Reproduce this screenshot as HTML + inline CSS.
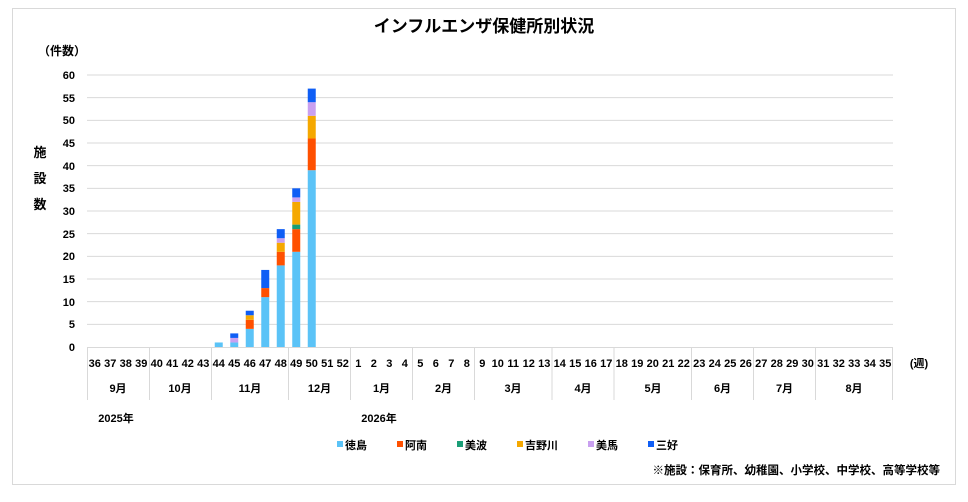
<!DOCTYPE html>
<html><head><meta charset="utf-8"><style>
body{margin:0;background:#fff;}
svg{display:block;font-family:"Liberation Sans","Noto Sans CJK JP",sans-serif;}
</style></head><body>
<svg width="968" height="502" viewBox="0 0 968 502" xmlns="http://www.w3.org/2000/svg">
<rect x="12.5" y="8.5" width="943" height="476" fill="#fff" stroke="#d9d9d9"/>
<text x="484" y="32" text-anchor="middle" font-size="17" font-weight="bold" fill="#000">インフルエンザ保健所別状況</text>
<text x="62" y="55" text-anchor="middle" font-size="12" font-weight="bold">（件数）</text>
<g font-size="13" font-weight="bold" text-anchor="middle"><text x="40" y="157">施</text><text x="40" y="183">設</text><text x="40" y="209">数</text></g>
<g stroke="#d9d9d9" stroke-width="1">
<line x1="87" x2="893" y1="324.33" y2="324.33"/><line x1="87" x2="893" y1="301.67" y2="301.67"/><line x1="87" x2="893" y1="279" y2="279"/><line x1="87" x2="893" y1="256.33" y2="256.33"/><line x1="87" x2="893" y1="233.67" y2="233.67"/><line x1="87" x2="893" y1="211" y2="211"/><line x1="87" x2="893" y1="188.33" y2="188.33"/><line x1="87" x2="893" y1="165.67" y2="165.67"/><line x1="87" x2="893" y1="143" y2="143"/><line x1="87" x2="893" y1="120.33" y2="120.33"/><line x1="87" x2="893" y1="97.67" y2="97.67"/><line x1="87" x2="893" y1="75" y2="75"/>
<line x1="87" x2="893" y1="347.5" y2="347.5"/>
<line x1="87.5" x2="87.5" y1="347" y2="400"/><line x1="149.5" x2="149.5" y1="347" y2="400"/><line x1="211.5" x2="211.5" y1="347" y2="400"/><line x1="288.5" x2="288.5" y1="347" y2="400"/><line x1="350.5" x2="350.5" y1="347" y2="400"/><line x1="412.5" x2="412.5" y1="347" y2="400"/><line x1="474.5" x2="474.5" y1="347" y2="400"/><line x1="552" x2="552" y1="347" y2="400"/><line x1="614" x2="614" y1="347" y2="400"/><line x1="691.5" x2="691.5" y1="347" y2="400"/><line x1="753.5" x2="753.5" y1="347" y2="400"/><line x1="815.5" x2="815.5" y1="347" y2="400"/><line x1="892.5" x2="892.5" y1="347" y2="400"/>
</g>
<g font-size="11" font-weight="bold" text-anchor="end">
<text x="75" y="351">0</text><text x="75" y="328">5</text><text x="75" y="306">10</text><text x="75" y="283">15</text><text x="75" y="260">20</text><text x="75" y="238">25</text><text x="75" y="215">30</text><text x="75" y="192">35</text><text x="75" y="170">40</text><text x="75" y="147">45</text><text x="75" y="124">50</text><text x="75" y="102">55</text><text x="75" y="79">60</text>
</g>
<g font-size="11" font-weight="bold" text-anchor="middle">
<text x="94.75" y="367">36</text><text x="110.25" y="367">37</text><text x="125.75" y="367">38</text><text x="141.25" y="367">39</text><text x="156.75" y="367">40</text><text x="172.25" y="367">41</text><text x="187.75" y="367">42</text><text x="203.25" y="367">43</text><text x="218.75" y="367">44</text><text x="234.25" y="367">45</text><text x="249.75" y="367">46</text><text x="265.25" y="367">47</text><text x="280.75" y="367">48</text><text x="296.25" y="367">49</text><text x="311.75" y="367">50</text><text x="327.25" y="367">51</text><text x="342.75" y="367">52</text><text x="358.25" y="367">1</text><text x="373.75" y="367">2</text><text x="389.25" y="367">3</text><text x="404.75" y="367">4</text><text x="420.25" y="367">5</text><text x="435.75" y="367">6</text><text x="451.25" y="367">7</text><text x="466.75" y="367">8</text><text x="482.25" y="367">9</text><text x="497.75" y="367">10</text><text x="513.25" y="367">11</text><text x="528.75" y="367">12</text><text x="544.25" y="367">13</text><text x="559.75" y="367">14</text><text x="575.25" y="367">15</text><text x="590.75" y="367">16</text><text x="606.25" y="367">17</text><text x="621.75" y="367">18</text><text x="637.25" y="367">19</text><text x="652.75" y="367">20</text><text x="668.25" y="367">21</text><text x="683.75" y="367">22</text><text x="699.25" y="367">23</text><text x="714.75" y="367">24</text><text x="730.25" y="367">25</text><text x="745.75" y="367">26</text><text x="761.25" y="367">27</text><text x="776.75" y="367">28</text><text x="792.25" y="367">29</text><text x="807.75" y="367">30</text><text x="823.25" y="367">31</text><text x="838.75" y="367">32</text><text x="854.25" y="367">33</text><text x="869.75" y="367">34</text><text x="885.25" y="367">35</text>
<text x="919" y="367">(週)</text>
<text x="118" y="392">9月</text><text x="180" y="392">10月</text><text x="250" y="392">11月</text><text x="319.5" y="392">12月</text><text x="381.5" y="392">1月</text><text x="443.5" y="392">2月</text><text x="513" y="392">3月</text><text x="583" y="392">4月</text><text x="653" y="392">5月</text><text x="722.5" y="392">6月</text><text x="784.5" y="392">7月</text><text x="854" y="392">8月</text>
<text x="116" y="422">2025年</text><text x="379" y="422">2026年</text>
</g>
<g>
<rect x="214.75" y="342.47" width="8" height="4.53" fill="#5BC3F7"/>
<rect x="230.25" y="342.47" width="8" height="4.53" fill="#5BC3F7"/><rect x="230.25" y="337.93" width="8" height="4.53" fill="#C9A0F0"/><rect x="230.25" y="333.4" width="8" height="4.53" fill="#0F5EF5"/>
<rect x="245.75" y="328.87" width="8" height="18.13" fill="#5BC3F7"/><rect x="245.75" y="319.8" width="8" height="9.07" fill="#FF5000"/><rect x="245.75" y="315.27" width="8" height="4.53" fill="#F5A800"/><rect x="245.75" y="310.73" width="8" height="4.53" fill="#0F5EF5"/>
<rect x="261.25" y="297.13" width="8" height="49.87" fill="#5BC3F7"/><rect x="261.25" y="288.07" width="8" height="9.07" fill="#FF5000"/><rect x="261.25" y="269.93" width="8" height="18.13" fill="#0F5EF5"/>
<rect x="276.75" y="265.4" width="8" height="81.6" fill="#5BC3F7"/><rect x="276.75" y="251.8" width="8" height="13.6" fill="#FF5000"/><rect x="276.75" y="242.73" width="8" height="9.07" fill="#F5A800"/><rect x="276.75" y="238.2" width="8" height="4.53" fill="#C9A0F0"/><rect x="276.75" y="229.13" width="8" height="9.07" fill="#0F5EF5"/>
<rect x="292.25" y="251.8" width="8" height="95.2" fill="#5BC3F7"/><rect x="292.25" y="229.13" width="8" height="22.67" fill="#FF5000"/><rect x="292.25" y="224.6" width="8" height="4.53" fill="#1A9E77"/><rect x="292.25" y="201.93" width="8" height="22.67" fill="#F5A800"/><rect x="292.25" y="197.4" width="8" height="4.53" fill="#C9A0F0"/><rect x="292.25" y="188.33" width="8" height="9.07" fill="#0F5EF5"/>
<rect x="307.75" y="170.2" width="8" height="176.8" fill="#5BC3F7"/><rect x="307.75" y="138.47" width="8" height="31.73" fill="#FF5000"/><rect x="307.75" y="115.8" width="8" height="22.67" fill="#F5A800"/><rect x="307.75" y="102.2" width="8" height="13.6" fill="#C9A0F0"/><rect x="307.75" y="88.6" width="8" height="13.6" fill="#0F5EF5"/>
</g>
<g font-size="11" font-weight="bold">
<rect x="337" y="441" width="6" height="6" fill="#5BC3F7"/><text x="345" y="449">徳島</text>
<rect x="397" y="441" width="6" height="6" fill="#FF5000"/><text x="405" y="449">阿南</text>
<rect x="457" y="441" width="6" height="6" fill="#1A9E77"/><text x="465" y="449">美波</text>
<rect x="517" y="441" width="6" height="6" fill="#F5A800"/><text x="525" y="449">吉野川</text>
<rect x="588" y="441" width="6" height="6" fill="#C9A0F0"/><text x="596" y="449">美馬</text>
<rect x="648" y="441" width="6" height="6" fill="#0F5EF5"/><text x="656" y="449">三好</text>
<text x="940" y="474" text-anchor="end" font-size="11.5">※施設：保育所、幼稚園、小学校、中学校、高等学校等</text>
</g>
</svg>
</body></html>
